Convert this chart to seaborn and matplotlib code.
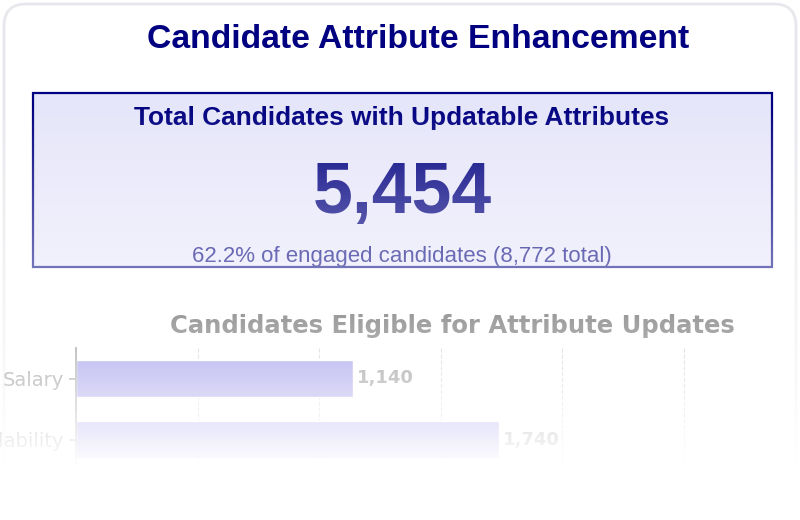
import numpy as np
import matplotlib
matplotlib.use("Agg")
import matplotlib.pyplot as plt
from matplotlib.patches import FancyBboxPatch, Rectangle
import seaborn as sns

attributes = ["Salary", "Availability"]
eligible_counts = [1140, 1740]
total_updatable = 5454
engaged_total = 8772
engaged_share = 62.2

sns.set_theme(style="whitegrid")
plt.rcParams['font.family'] = ['DejaVu Sans']

fig = plt.figure(figsize=(8, 5.2), dpi=100, facecolor='white')

# Background layer in pixel coordinates (card, title, KPI box)
bg = fig.add_axes([0, 0, 1, 1], zorder=0)
bg.set_xlim(0, 800)
bg.set_ylim(520, 0)
bg.axis('off')

card = FancyBboxPatch((4, 4), 792, 560, boxstyle="round,pad=0,rounding_size=22",
                      fc='white', ec='#e8e8ec', lw=2)
bg.add_patch(card)

head = dict(family='Liberation Sans', fontweight='bold', color='navy', ha='center', va='baseline')
bg.text(418, 48.5, "Candidate Attribute Enhancement", fontsize=24.3, **head)

bg.add_patch(Rectangle((33, 93), 739, 174, fc='#e6e6fa', ec='navy', lw=1.6))
bg.text(402, 125, "Total Candidates with Updatable Attributes", fontsize=18.9, **head)
bg.text(402, 213, f"{total_updatable:,}", fontsize=51.5, **head)
bg.text(402, 262, f"{engaged_share}% of engaged candidates ({engaged_total:,} total)",
        fontsize=16, family='Liberation Sans', color='navy', ha='center', va='baseline')

# Bar chart
ax = fig.add_axes([76 / 800, 1 - 470 / 520, 752 / 800, 122 / 520], zorder=1)
ax.set_facecolor('none')
sns.barplot(x=eligible_counts, y=attributes, orient='h', color='#4538d6',
            width=0.6, saturation=1, ax=ax)
ax.bar_label(ax.containers[0], labels=[f"{v:,}" for v in eligible_counts],
             padding=3, fontsize=13, fontweight='bold', color='#262626')
ax.set_xlim(0, 3092)
ax.set_ylim(1.5, -0.5)
ax.set_title("Candidates Eligible for Attribute Updates", fontsize=17.5,
             fontweight='bold', color='#111111', pad=11)
ax.grid(axis='x', linestyle='--', color='#aaaaaa', lw=0.8)
ax.grid(axis='y', visible=False)
for side in ['top', 'right', 'bottom']:
    ax.spines[side].set_visible(False)
ax.spines['left'].set_color('#333333')
ax.tick_params(axis='y', left=True, length=5, color='#333333', labelsize=14,
               labelcolor='#262626')
ax.tick_params(axis='x', labelbottom=False)

# White fade over the lower part of the card
ov = fig.add_axes([0, 0, 1, 1], zorder=5)
ov.set_facecolor('none')
ov.axis('off')
rows = np.arange(520)
alpha = np.clip((rows - 100) / 365, 0, 1)
fade = np.ones((520, 1, 4))
fade[:, 0, 3] = alpha
ov.imshow(fade, extent=[0, 800, 520, 0], aspect='auto', interpolation='bilinear')
ov.set_xlim(0, 800)
ov.set_ylim(520, 0)

fig.savefig("out.png", dpi=100, facecolor='white')
